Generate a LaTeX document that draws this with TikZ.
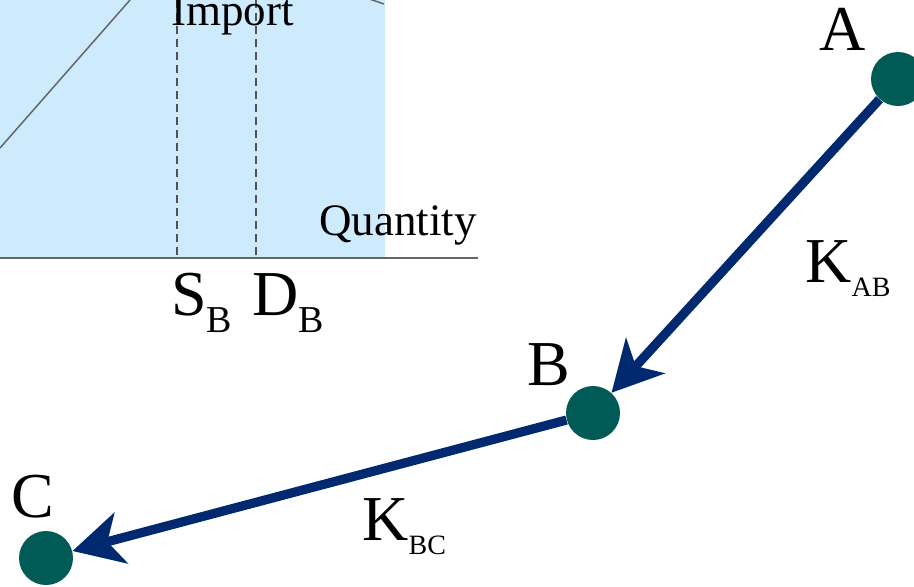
\documentclass[tikz,border=0pt]{standalone}
\usepackage{fontspec}
\setmainfont{Liberation Serif}
\usetikzlibrary{arrows.meta}

\definecolor{importblue}{RGB}{205,235,253}
\definecolor{axisgray}{RGB}{102,102,102}
\definecolor{dotteal}{RGB}{0,90,85}
\definecolor{flownavy}{RGB}{0,41,111}

% letter with a lowered subscript: \subletter{size}{subsize}{drop}{letter}{sub}
\newcommand{\subletter}[5]{{\fontsize{#1}{#1}\selectfont #4}\lower#3\hbox{\fontsize{#2}{#2}\selectfont #5}}

\begin{document}
\begin{tikzpicture}[x=0.5pt, y=-0.5pt,
    dot/.style={circle, fill=dotteal, inner sep=0pt, minimum size=27pt},
    mktlabel/.style={inner sep=0pt, anchor=base, font=\fontsize{32}{32}\selectfont},
    axtext/.style={inner sep=0pt, anchor=base west, font=\fontsize{22.5}{22.5}\selectfont},
    qlabel/.style={inner sep=0pt, anchor=base west},
    flow/.style={draw=flownavy, line width=4.6pt, -{Stealth[length=25pt, width=26pt, inset=7pt]}},
    demand/.style={draw=axisgray, line width=0.75pt},
    qline/.style={draw=axisgray!80!black, line width=0.75pt, dash pattern=on 4pt off 2.5pt}]
    \useasboundingbox (0,0) rectangle (914,586);
    \clip (0,0) rectangle (914,586);
    % Import market panel
    \fill[importblue] (0,0) rectangle (385,258);
    \draw[demand] (0,148) -- (130,0);
    \draw[demand] (368,-1.5) -- (384,4);
    \draw[qline] (177,0) -- (177,258);
    \draw[qline] (256,0) -- (256,258);
    \draw[draw=axisgray, line width=1pt] (0,258) -- (478,258);
    \node[axtext] (impt) at (171,25) {Import};
    \node[axtext] (qty) at (319,235) {Quantity};
    \node[qlabel] (sB) at (171,315) {\subletter{32}{19}{8.5pt}{S}{B}};
    \node[qlabel] (dB) at (252,315) {\subletter{32}{19}{8.5pt}{D}{B}};
    % Markets
    \node[dot] (nA) at (898,79) {};
    \node[dot] (nB) at (593,413) {};
    \node[dot] (nC) at (46,558) {};
    \node[mktlabel] (lA) at (843,50) {A};
    \node[mktlabel] (lB) at (549,385) {B};
    \node[mktlabel] (lC) at (33,517) {C};
    % Trade flows
    \draw[flow] (nA) -- (nB);
    \draw[flow] (nB) -- (nC);
    \node[qlabel] (kAB) at (805,282) {\subletter{32}{14}{7pt}{K}{AB}};
    \node[qlabel] (kBC) at (362,540) {\subletter{32}{14}{7pt}{K}{BC}};
\end{tikzpicture}
\end{document}
